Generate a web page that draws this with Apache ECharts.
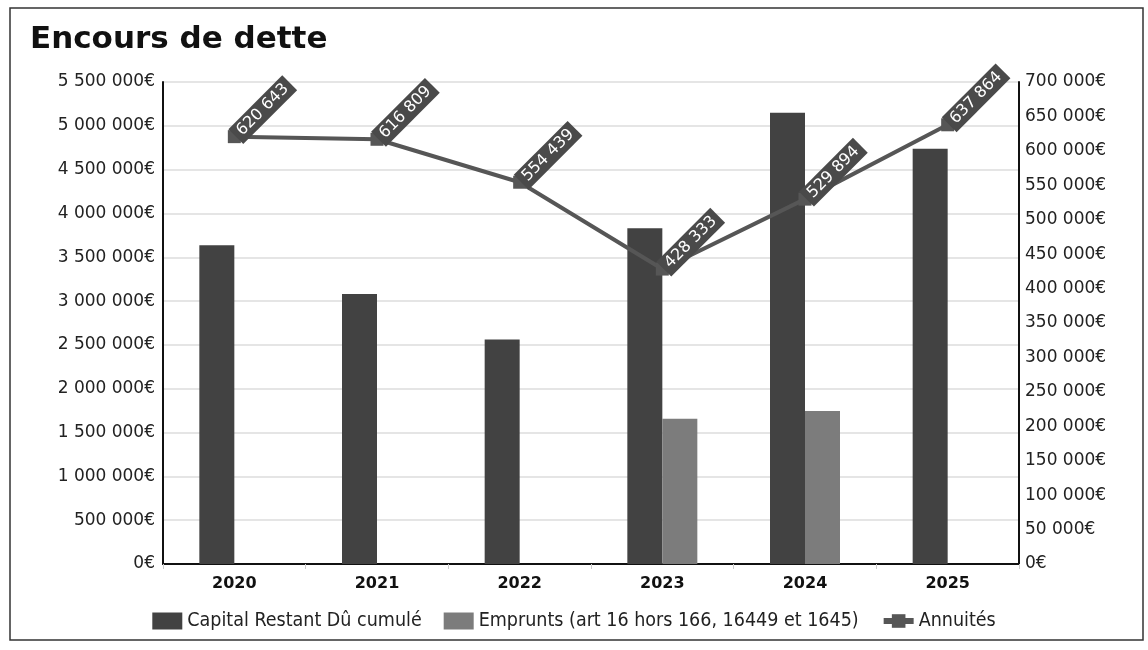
<!DOCTYPE html>
<html>
<head>
<meta charset="utf-8">
<title>Encours de dette</title>
<script src="https://cdn.jsdelivr.net/npm/echarts@6/dist/echarts.min.js"></script>
<style>
  html, body { margin: 0; padding: 0; background: #ffffff; }
  #chart { width: 1148px; height: 650px; }
</style>
</head>
<body>
<div id="chart"></div>
<script>
// Years on the category axis
const years = ['2020', '2021', '2022', '2023', '2024', '2025'];
// Capital restant dû cumulé (left axis, €)
const capitalRestantDu = [3638000, 3081000, 2563000, 3830000, 5148000, 4737000];
// Emprunts nouveaux (left axis, €)
const emprunts = [null, null, null, 1657000, 1747000, null];
// Annuités (right axis, €)
const annuites = [620643, 616809, 554439, 428333, 529894, 637864];

const seriesNames = [
  'Capital Restant Dû cumulé',
  'Emprunts (art 16 hors 166, 16449 et 1645)',
  'Annuités'
];

// "5 500 000" style grouping with a space
function groupDigits(v) {
  return String(Math.round(v)).replace(/\B(?=(\d{3})+(?!\d))/g, ' ');
}
function euro(v) { return groupDigits(v) + '€'; }

const FONT = 'DejaVu Sans';
const LINE_COLOR = '#565656';

const chart = echarts.init(document.getElementById('chart'), null, { renderer: 'canvas' });

chart.setOption({
  backgroundColor: '#ffffff',
  animation: false,
  title: {
    text: 'Encours de dette',
    left: 25,
    top: 19,
    textStyle: { fontFamily: FONT, fontWeight: 'bold', fontSize: 31, color: '#111' }
  },
  graphic: [{
    type: 'rect',
    shape: { x: 10, y: 8, width: 1133, height: 632 },
    style: { fill: 'none', stroke: '#333', lineWidth: 1.5 },
    silent: true
  }],
  legend: {
    bottom: 14,
    left: 'center',
    itemWidth: 30,
    itemHeight: 17,
    itemGap: 22,
    textStyle: { fontFamily: 'DejaVu Sans Condensed', fontSize: 19.5, color: '#222' },
    data: [
      { name: seriesNames[0], icon: 'rect' },
      { name: seriesNames[1], icon: 'rect' },
      { name: seriesNames[2], lineStyle: { width: 6, color: LINE_COLOR } }
    ]
  },
  grid: { left: 163, right: 129, top: 82, bottom: 86 },
  xAxis: {
    type: 'category',
    data: years,
    axisLine: { lineStyle: { color: '#111', width: 2 } },
    axisTick: { show: true, length: 5, lineStyle: { color: '#ccc' } },
    axisLabel: { fontFamily: FONT, fontWeight: 'bold', fontSize: 16, color: '#111', margin: 12 }
  },
  yAxis: [{
    type: 'value',
    min: 0, max: 5500000, interval: 500000,
    axisLine: { show: true, lineStyle: { color: '#111', width: 2 } },
    axisTick: { show: false },
    splitLine: { lineStyle: { color: '#dcdcdc', width: 1.5 } },
    axisLabel: { fontFamily: FONT, fontSize: 17, color: '#222', margin: 8, formatter: euro }
  }, {
    type: 'value',
    min: 0, max: 700000, interval: 50000,
    position: 'right',
    axisLine: { show: true, lineStyle: { color: '#111', width: 2 } },
    axisTick: { show: false },
    splitLine: { show: false },
    axisLabel: { fontFamily: FONT, fontSize: 17, color: '#222', margin: 6, formatter: euro }
  }],
  series: [{
    name: seriesNames[0],
    type: 'bar',
    data: capitalRestantDu,
    barWidth: 35,
    barGap: '0%',
    itemStyle: { color: '#424242' }
  }, {
    name: seriesNames[1],
    type: 'bar',
    data: emprunts,
    barWidth: 35,
    barGap: '0%',
    itemStyle: { color: '#7c7c7c' }
  }, {
    name: seriesNames[2],
    type: 'line',
    yAxisIndex: 1,
    data: annuites,
    z: 5,
    symbol: 'rect',
    symbolSize: 13,
    lineStyle: { color: LINE_COLOR, width: 4 },
    itemStyle: { color: LINE_COLOR },
    label: {
      show: true,
      position: 'right',
      distance: -5,
      rotate: 45,
      align: 'left',
      verticalAlign: 'middle',
      fontFamily: FONT,
      fontSize: 16,
      color: '#ffffff',
      backgroundColor: '#4a4a4a',
      padding: [3, 5, 2, 5],
      formatter: p => groupDigits(p.value)
    }
  }]
});
</script>
</body>
</html>
